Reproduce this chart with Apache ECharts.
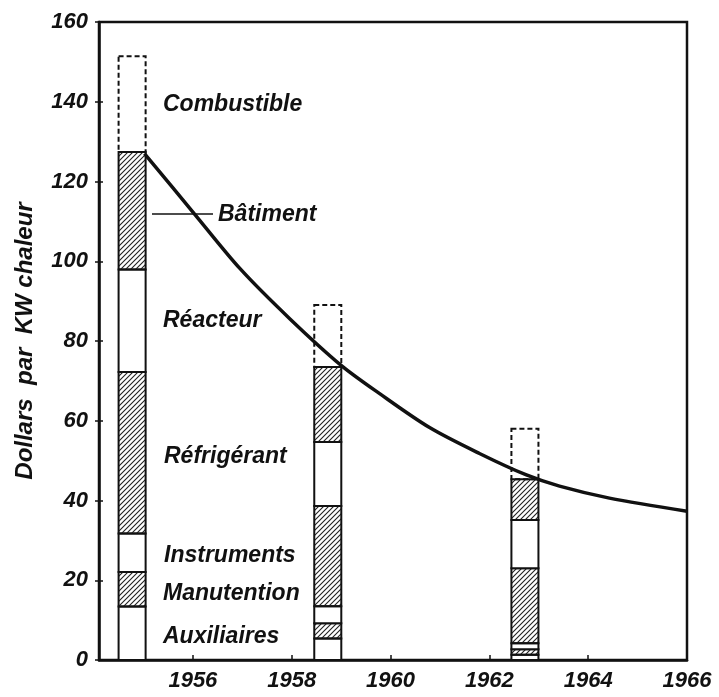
<!DOCTYPE html>
<html>
<head>
<meta charset="utf-8">
<script src="https://cdn.jsdelivr.net/npm/echarts@6/dist/echarts.min.js"></script>
<style>
  html, body { margin: 0; padding: 0; background: #fff; }
  #chart { width: 719px; height: 697px; }
</style>
</head>
<body>
<div id="chart"></div>
<script>
// positions des barres (années)
var barYears = [1954.77, 1958.73, 1962.72];
// composantes du coût, en dollars par kW, de bas en haut
var auxiliaires = [13.4, 5.4, 1.3];
var manutention = [8.7, 3.8, 1.4];
var instruments = [9.6, 4.3, 1.5];
var refrigerant = [40.5, 25.1, 18.8];
var reacteur = [25.7, 16.1, 12.1];
var batiment = [29.5, 18.8, 10.2];
var combustible = [24.0, 15.5, 12.7];
// courbe de tendance
var curveYears = [1955.02, 1956.03, 1956.95, 1957.96, 1959.0, 1959.78, 1960.79, 1961.8, 1962.75, 1963.42, 1964.43, 1966];
var curveValues = [127.0, 111.9, 98.2, 85.6, 73.9, 66.8, 58.3, 51.8, 46.4, 43.6, 40.6, 37.3];
var yearTicks = [1956, 1958, 1960, 1962, 1964, 1966];

var FAMILY = '"Liberation Sans", Arial, sans-serif';
var FONT = 'italic bold 23px ' + FAMILY;
var INK = '#111';
var BAR_W = 0.547; // largeur des barres en années

// hachures ///
function hatchCanvas() {
    var c = document.createElement('canvas');
    c.width = 5; c.height = 5;
    var ctx = c.getContext('2d');
    ctx.strokeStyle = '#222';
    ctx.lineWidth = 1.1;
    ctx.beginPath();
    ctx.moveTo(-1, 6); ctx.lineTo(6, -1);
    ctx.moveTo(-1, 1); ctx.lineTo(1, -1);
    ctx.moveTo(4, 6); ctx.lineTo(6, 4);
    ctx.stroke();
    return c;
}
var hatch = {image: hatchCanvas(), repeat: 'repeat'};

var segments = [
    {name: 'Auxiliaires', data: auxiliaires, kind: 'white'},
    {name: 'Manutention', data: manutention, kind: 'hatch'},
    {name: 'Instruments', data: instruments, kind: 'white'},
    {name: 'Réfrigérant', data: refrigerant, kind: 'hatch'},
    {name: 'Réacteur', data: reacteur, kind: 'white'},
    {name: 'Bâtiment', data: batiment, kind: 'hatch'},
    {name: 'Combustible', data: combustible, kind: 'dashed'}
];

// cumul pour empiler
var base = barYears.map(function () { return 0; });
var series = [];
segments.forEach(function (seg) {
    var rows = barYears.map(function (yr, i) {
        var lo = base[i];
        var hi = lo + seg.data[i];
        base[i] = hi;
        return [yr, lo, hi];
    });
    series.push({
        name: seg.name,
        type: 'custom',
        z: seg.kind === 'dashed' ? 1 : 3,
        data: rows,
        encode: {x: 0, y: [1, 2]},
        renderItem: function (params, api) {
            var p0 = api.coord([api.value(0), api.value(1)]);
            var p1 = api.coord([api.value(0), api.value(2)]);
            var w = api.size([BAR_W, 0])[0];
            var style = {stroke: INK, lineWidth: 2};
            if (seg.kind === 'hatch') style.fill = hatch;
            else if (seg.kind === 'white') style.fill = '#fff';
            else { style.fill = 'none'; style.lineDash = [5, 3]; }
            return {
                type: 'rect',
                shape: {x: p0[0] - w / 2, y: p1[1], width: w, height: p0[1] - p1[1]},
                style: style
            };
        }
    });
});

series.push({
    name: 'tendance',
    type: 'line',
    z: 5,
    smooth: 0.3,
    symbol: 'none',
    lineStyle: {color: INK, width: 3.5},
    data: curveYears.map(function (y, i) { return [y, curveValues[i]]; })
});

var labels = [
    {text: 'Combustible', x: 163, y: 105},
    {text: 'Bâtiment', x: 218, y: 215},
    {text: 'Réacteur', x: 163, y: 321},
    {text: 'Réfrigérant', x: 164, y: 457},
    {text: 'Instruments', x: 164, y: 556},
    {text: 'Manutention', x: 163, y: 594},
    {text: 'Auxiliaires', x: 163, y: 637}
];
var graphic = labels.map(function (l) {
    return {type: 'text', x: l.x, y: l.y, z: 10,
        style: {text: l.text, font: FONT, fill: INK, verticalAlign: 'middle'}};
});
graphic.push({type: 'line', z: 10, shape: {x1: 152, y1: 214, x2: 213, y2: 214},
    style: {stroke: INK, lineWidth: 1.5}});

var chart = echarts.init(document.getElementById('chart'));
chart.setOption({
    backgroundColor: '#fff',
    animation: false,
    grid: {left: 99, right: 32, top: 22, bottom: 37, show: true, borderColor: INK, borderWidth: 2.5},
    xAxis: {
        type: 'value',
        min: 1954.1,
        max: 1966,
        splitLine: {show: false},
        axisLine: {lineStyle: {color: INK, width: 2.5}},
        axisTick: {inside: true, length: 5, customValues: yearTicks, lineStyle: {color: INK, width: 1.5}},
        axisLabel: {customValues: yearTicks, margin: 10, color: INK,
            formatter: function (v) { return String(v); },
            fontFamily: FAMILY, fontStyle: 'italic', fontWeight: 'bold', fontSize: 22}
    },
    yAxis: [{
        type: 'value',
        min: 0, max: 160, interval: 20,
        name: 'Dollars  par  KW chaleur',
        nameLocation: 'middle',
        nameGap: 62,
        nameTextStyle: {color: INK, fontFamily: FAMILY,
            fontStyle: 'italic', fontWeight: 'bold', fontSize: 24},
        splitLine: {show: false},
        axisLine: {lineStyle: {color: INK, width: 2.5}},
        axisTick: {length: 4, lineStyle: {color: INK, width: 1.5}},
        axisLabel: {margin: 11, color: INK,
            fontFamily: FAMILY, fontStyle: 'italic', fontWeight: 'bold', fontSize: 22}
    }, {
        type: 'value',
        position: 'left',
        min: 0, max: 160, interval: 20,
        splitLine: {show: false},
        axisLine: {show: false},
        axisTick: {inside: true, length: 4, lineStyle: {color: INK, width: 1.5}},
        axisLabel: {show: false}
    }],
    graphic: graphic,
    series: series
});
</script>
</body>
</html>
